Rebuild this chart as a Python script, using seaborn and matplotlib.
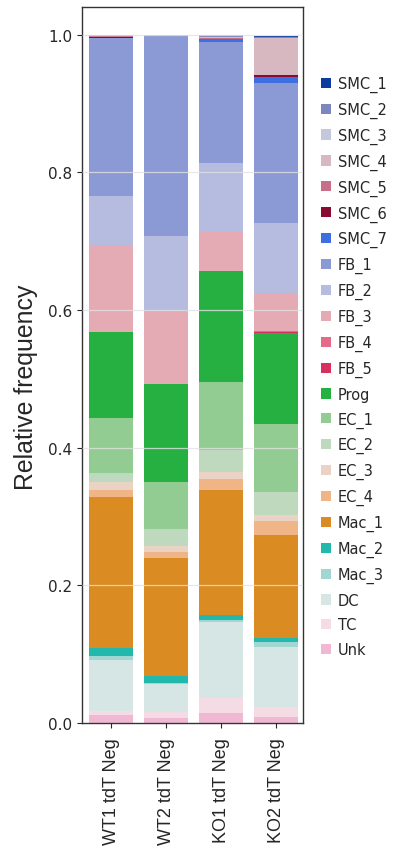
import numpy as np
import pandas as pd
import matplotlib
matplotlib.use("Agg")
import matplotlib.pyplot as plt
import seaborn as sns
from matplotlib.patches import Patch

samples = ["WT1 tdT Neg", "WT2 tdT Neg", "KO1 tdT Neg", "KO2 tdT Neg"]
clusters = ["SMC_1", "SMC_2", "SMC_3", "SMC_4", "SMC_5", "SMC_6", "SMC_7",
            "FB_1", "FB_2", "FB_3", "FB_4", "FB_5", "Prog",
            "EC_1", "EC_2", "EC_3", "EC_4", "Mac_1", "Mac_2", "Mac_3",
            "DC", "TC", "Unk"]
colors = ["#0b3c9e", "#7c86bf", "#c5c7dc", "#d8b8c0", "#c76e88", "#8a0a32", "#3e6fe0",
          "#8b99d5", "#b5bcdf", "#e4abb5", "#e56a8a", "#d9305f", "#27b042",
          "#93cc93", "#bfd9bf", "#ead2c4", "#efb587", "#da8b22", "#22b8ae", "#a0d8d1",
          "#d6e6e5", "#f4dbe4", "#f1b8d4"]

# fractions per sample, in cluster order (SMC_1 ... Unk)
wt1 = [0.0, 0.0, 0.0, 0.001, 0.003, 0.001, 0.0,
       0.229, 0.073, 0.125, 0.0, 0.0, 0.125,
       0.080, 0.013, 0.011, 0.011, 0.219, 0.011, 0.006,
       0.074, 0.007, 0.011]
wt2 = [0.0, 0.0, 0.0, 0.001, 0.0, 0.0, 0.0,
       0.292, 0.109, 0.105, 0.0, 0.0, 0.143,
       0.068, 0.025, 0.008, 0.010, 0.171, 0.010, 0.002,
       0.040, 0.009, 0.007]
ko1 = [0.0, 0.003, 0.0, 0.001, 0.001, 0.001, 0.004,
       0.176, 0.100, 0.057, 0.0, 0.0, 0.161,
       0.099, 0.032, 0.009, 0.017, 0.181, 0.007, 0.004,
       0.110, 0.022, 0.014]
ko2 = [0.001, 0.002, 0.0, 0.054, 0.0, 0.002, 0.009,
       0.204, 0.102, 0.055, 0.001, 0.001, 0.132,
       0.099, 0.034, 0.008, 0.021, 0.150, 0.006, 0.006,
       0.088, 0.015, 0.008]

rows = []
for s, vals in zip(samples, [wt1, wt2, ko1, ko2]):
    for c, v in zip(clusters, vals):
        rows.append({"sample": s, "cluster": c, "frac": v})
df = pd.DataFrame(rows)
df["cluster"] = pd.Categorical(df["cluster"], categories=clusters, ordered=True)
df = df.sort_values(["sample", "cluster"])
# cumulative from bottom (Unk) to top (SMC_1)
df["cum"] = df.iloc[::-1].groupby("sample")["frac"].cumsum().iloc[::-1]

sns.set_style("ticks")
plt.rcParams["font.family"] = ["DejaVu Sans"]

fig = plt.figure(figsize=(4.05, 8.53), dpi=100)
ax = fig.add_axes([82 / 405, 1 - 724 / 853, 221 / 405, 716 / 853])

for c, col in zip(clusters, colors):
    sub = df[df["cluster"] == c]
    sns.barplot(data=sub, x="sample", y="cum", order=samples, color=col,
                width=0.8, saturation=1, ax=ax, errorbar=None, linewidth=0,
                zorder=2)

ax.set_ylim(0, 1.04)
ax.set_xlim(-0.53, 3.49)
ax.set_yticks([0.0, 0.2, 0.4, 0.6, 0.8, 1.0])
ax.set_yticklabels(["0.0", "0.2", "0.4", "0.6", "0.8", "1.0"], fontsize=11)
ax.grid(axis="y", color="#e2e2e2", linewidth=0.9, alpha=0.8, zorder=3)
ax.set_axisbelow(False)
ax.set_xlabel("")
ax.set_ylabel("Relative frequency", fontsize=17.9, family="Liberation Sans")
ax.yaxis.set_label_coords(-0.2, 0.47)
ax.set_xticks(range(len(samples)))
ax.set_xticklabels(samples, rotation=90, fontsize=13, family="Liberation Sans")
ax.tick_params(axis="x", pad=6.5)
for sp in ax.spines.values():
    sp.set_visible(True)
    sp.set_color("#333333")
    sp.set_linewidth(1.0)

handles = [Patch(facecolor=col, edgecolor="none", label=c) for c, col in zip(clusters, colors)]
ax.legend(handles=handles, loc="upper left", bbox_to_anchor=(1.055, 0.912),
          frameon=False, fontsize=10.5, handlelength=0.7, handleheight=0.7,
          handletextpad=0.45, labelspacing=0.665, borderaxespad=0)

fig.savefig("out.png", dpi=100)
